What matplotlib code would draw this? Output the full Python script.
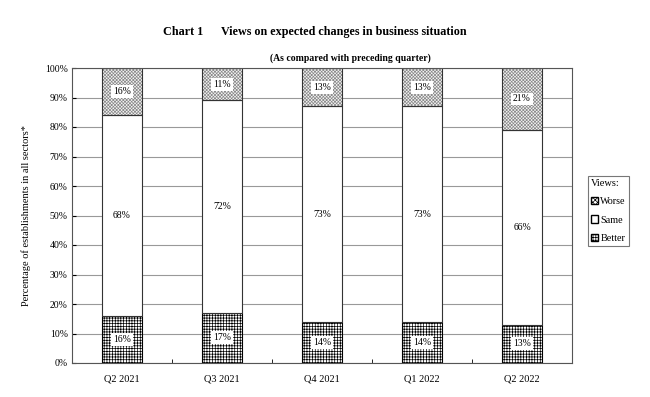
import numpy as np
import matplotlib.pyplot as plt
from matplotlib.patches import Patch

plt.rcParams['font.family'] = ['Liberation Serif', 'DejaVu Serif']
plt.rcParams['hatch.linewidth'] = 0.5

quarters = ['Q2 2021', 'Q3 2021', 'Q4 2021', 'Q1 2022', 'Q2 2022']
better = [16, 17, 14, 14, 13]
same = [68, 72, 73, 73, 66]
worse = [16, 11, 13, 13, 21]

x = np.arange(len(quarters))
fig = plt.figure(figsize=(6.5, 3.97), dpi=100)
ax = fig.add_axes([72/650, 1 - 363/397, 500/650, 295/397])

ax.yaxis.grid(True, color='#999999', linewidth=0.8)
ax.set_axisbelow(True)

w = 0.4
ax.bar(x, better, w, color='white', edgecolor='black', hatch='++++++', linewidth=0.8)
ax.bar(x, same, w, bottom=better, color='white', edgecolor='#333333', linewidth=0.8)
bot = np.array(better) + np.array(same)
# grey hatch for "worse", then a dark outline on top
ax.bar(x, worse, w, bottom=bot, color='#f4f4f4', edgecolor='#8a8a8a', hatch='xxxxxxxxxx', linewidth=0)
ax.bar(x, worse, w, bottom=bot, color='none', edgecolor='#333333', linewidth=0.8)

box = dict(boxstyle='square,pad=0.2', facecolor='white', edgecolor='none')
for i in range(len(x)):
    ax.text(x[i], better[i] / 2, f'{better[i]}%', ha='center', va='center', fontsize=7, bbox=box)
    ax.text(x[i], better[i] + same[i] / 2, f'{same[i]}%', ha='center', va='center', fontsize=7, bbox=box)
    ax.text(x[i], bot[i] + worse[i] / 2, f'{worse[i]}%', ha='center', va='center', fontsize=7, bbox=box)

ax.set_xlim(-0.5, len(x) - 0.5)
ax.set_ylim(0, 100)
ax.set_yticks(range(0, 101, 10))
ax.set_yticklabels([f'{v}%' for v in range(0, 101, 10)], fontsize=7)
ax.set_xticks(x)
ax.set_xticklabels(quarters, fontsize=7.5)
ax.tick_params(axis='x', length=0, pad=8)
ax.set_xticks(np.arange(0.5, len(x) - 0.5, 1), minor=True)
ax.tick_params(axis='x', which='minor', direction='in', length=3)
ax.tick_params(axis='y', direction='in', length=3, pad=3)
for s in ax.spines.values():
    s.set_color('#555555')
    s.set_linewidth(0.8)

ax.set_ylabel('Percentage of establishments in all sectors*', fontsize=7.5, labelpad=10)

fig.text(315/650, 1 - 32/397, 'Chart 1      Views on expected changes in business situation',
         ha='center', va='center', fontsize=8.7, fontweight='bold')
fig.text(350/650, 1 - 58/397, '(As compared with preceding quarter)',
         ha='center', va='center', fontsize=7, fontweight='bold')

handles = [Patch(facecolor='white', edgecolor='black', hatch='xxxxxxx'),
           Patch(facecolor='white', edgecolor='black'),
           Patch(facecolor='white', edgecolor='black', hatch='++++++')]
leg = fig.legend(handles, ['Worse', 'Same', 'Better'], title='Views:', loc='upper left',
                 bbox_to_anchor=(583/650, 1 - 171/397), fontsize=7.3, title_fontsize=7.5,
                 frameon=True, fancybox=False, handlelength=0.7, handleheight=0.7,
                 handletextpad=0.2, labelspacing=0.9, borderpad=0.3)
leg.get_frame().set_edgecolor('#555555')
leg.get_frame().set_linewidth(0.8)
leg._legend_box.align = 'left'

fig.savefig('out.png', dpi=100)
